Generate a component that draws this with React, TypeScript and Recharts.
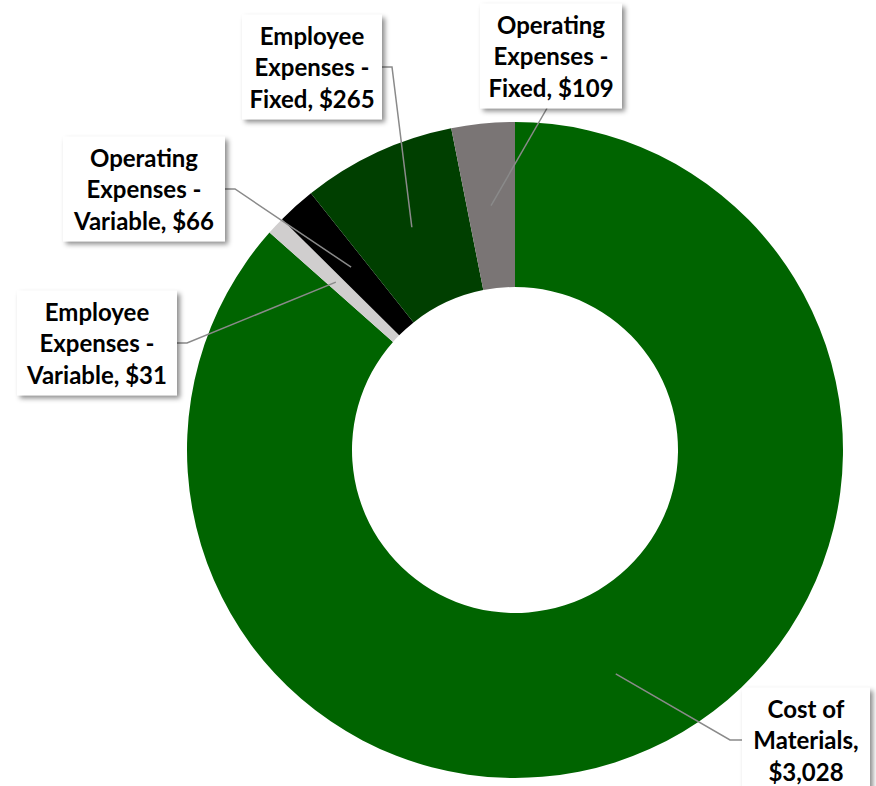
import { PieChart, Pie, Cell } from "recharts";

const categories = [
  "Cost of Materials",
  "Employee Expenses - Variable",
  "Operating Expenses - Variable",
  "Employee Expenses - Fixed",
  "Operating Expenses - Fixed",
];
const amounts = [3028, 31, 66, 265, 109];
const colors = ["#006400", "#d0cece", "#000000", "#003f00", "#7a7575"];

// where each label box sits, relative to the pie centre (box centre + width)
const labelBoxes = [
  { dx: 291, dy: 290, w: 128 },
  { dx: -418, dy: -107, w: 160 },
  { dx: -371, dy: -261, w: 162 },
  { dx: -203, dy: -383, w: 140 },
  { dx: 36, dy: -394, w: 142 },
];

const data = categories.map((name, i) => ({ name, value: amounts[i] }));

const RADIAN = Math.PI / 180;
const FONT = "Lato, 'Open Sans', sans-serif";
const LINE_H = 31.5;

function wrap(text: string, maxChars: number): string[] {
  const words = text.split(" ");
  const lines: string[] = [];
  let cur = "";
  for (const w of words) {
    if (!cur) cur = w;
    else if ((cur + " " + w).length <= maxChars) cur += " " + w;
    else {
      lines.push(cur);
      cur = w;
    }
  }
  if (cur) lines.push(cur);
  return lines;
}

function renderLabel(props: any) {
  const { cx, cy, midAngle, innerRadius, outerRadius, index } = props;
  const r = (innerRadius + outerRadius) / 2;
  const ax = cx + r * Math.cos(-midAngle * RADIAN);
  const ay = cy + r * Math.sin(-midAngle * RADIAN);

  const box = labelBoxes[index];
  const lines = wrap(`${categories[index]}, $${amounts[index].toLocaleString("en-US")}`, 13);
  const h = lines.length * LINE_H + 10;
  const bx = cx + box.dx;
  const by = cy + box.dy;
  const left = bx - box.w / 2;
  const right = bx + box.w / 2;
  const top = by - h / 2;
  const bottom = by + h / 2;

  let points: string;
  if (ax >= left && ax <= right) {
    points = `${ax},${ay} ${bx - 4},${bottom}`;
  } else if (ax > right) {
    points = `${ax},${ay} ${right + 10},${by} ${right},${by}`;
  } else {
    points = `${ax},${ay} ${left - 12},${by} ${left},${by}`;
  }

  return (
    <g key={`lbl-${index}`}>
      <polyline points={points} fill="none" stroke="#8a8a8a" strokeWidth={1.5} />
      <rect x={left} y={top} width={box.w} height={h} fill="#ffffff" filter="url(#boxShadow)" />
      <text
        x={bx}
        y={top + 5}
        textAnchor="middle"
        fontFamily={FONT}
        fontWeight={700}
        fontSize={24}
        fill="#000000"
      >
        {lines.map((ln, i) => (
          <tspan key={i} x={bx} dy={i === 0 ? 25 : LINE_H}>
            {ln}
          </tspan>
        ))}
      </text>
    </g>
  );
}

export default function App() {
  return (
    <div style={{ position: "fixed", left: 0, top: 0, background: "#ffffff" }}>
      <PieChart width={876} height={786} margin={{ top: 0, right: 0, bottom: 0, left: 0 }}>
        <defs>
          <filter id="boxShadow" x="-20%" y="-20%" width="140%" height="140%">
            <feDropShadow dx={3} dy={3} stdDeviation={2.5} floodColor="#000000" floodOpacity={0.45} />
          </filter>
        </defs>
        <Pie
          data={data}
          dataKey="value"
          nameKey="name"
          cx={515}
          cy={450}
          innerRadius={163}
          outerRadius={328}
          startAngle={90}
          endAngle={-270}
          stroke="none"
          label={renderLabel}
          labelLine={false}
          isAnimationActive={false}
        >
          {data.map((d, i) => (
            <Cell key={d.name} fill={colors[i]} />
          ))}
        </Pie>
      </PieChart>
    </div>
  );
}
